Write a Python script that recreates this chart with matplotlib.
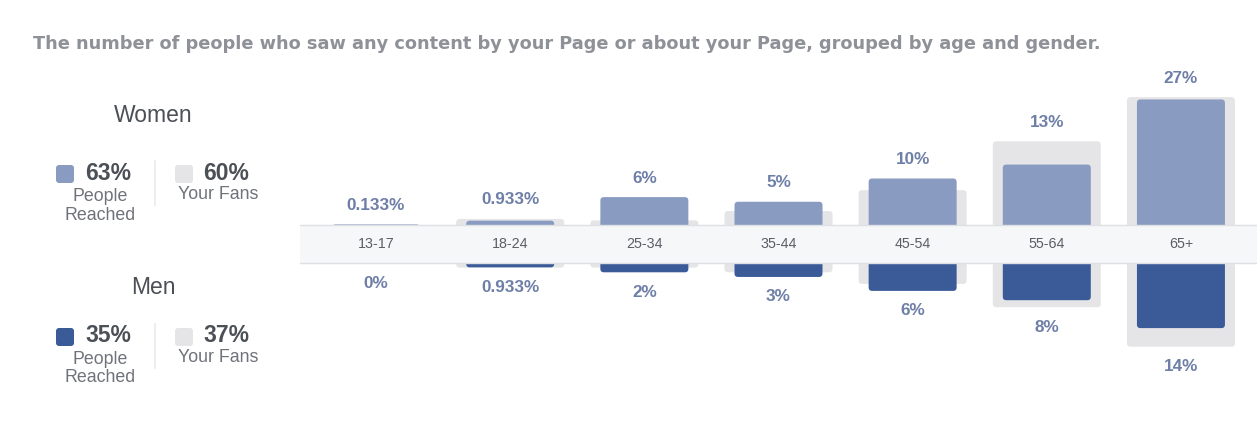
import matplotlib
matplotlib.use("Agg")
import matplotlib.pyplot as plt
from matplotlib.patches import FancyBboxPatch

# ---------------- data ----------------
ages = ["13-17", "18-24", "25-34", "35-44", "45-54", "55-64", "65+"]
women_reached = [0.133, 0.933, 6, 5, 10, 13, 27]
men_reached = [0, 0.933, 2, 3, 6, 8, 14]
women_fans = [0, 1.3, 1.0, 3.0, 7.5, 18.0, 27.5]
men_fans = [0, 1.0, 1.0, 2.0, 4.5, 9.5, 18.0]
women_total_reached, women_total_fans = 63, 60
men_total_reached, men_total_fans = 35, 37
title = ("The number of people who saw any content by your Page or about your Page, "
         "grouped by age and gender.")

# ---------------- style ----------------
C_WOMEN = "#8a9bc2"
C_MEN = "#3b5b98"
C_FANS = "#e5e5e7"
C_LABEL = "#6e7fa7"
C_TITLE = "#8e9197"
C_DARK = "#4b4f56"
C_GREY = "#6f7379"
FONT = "Liberation Sans"

W, H = 1257, 445
fig = plt.figure(figsize=(W / 100, H / 100), dpi=100)
fig.patch.set_facecolor("white")


def fx(x):
    return x / W


def fy(y):
    return 1 - y / H


x0, x1 = 300, 1257
band_top, band_bot = 225, 263
ppu = 4.65          # pixels per percent
top_limit, bottom_limit = 55, 430
xl = (-0.567, 6.567)

axw = fig.add_axes([fx(x0), fy(band_top), (x1 - x0) / W, (band_top - top_limit) / H])
axm = fig.add_axes([fx(x0), fy(bottom_limit), (x1 - x0) / W, (bottom_limit - band_bot) / H])
axb = fig.add_axes([fx(x0), fy(band_bot), (x1 - x0) / W, (band_bot - band_top) / H])

axw.set_ylim(0, (band_top - top_limit) / ppu)
axm.set_ylim((bottom_limit - band_bot) / ppu, 0)
for ax in (axw, axm, axb):
    ax.set_xlim(*xl)
    ax.set_xticks([])
    ax.set_yticks([])
    for s in ax.spines.values():
        s.set_visible(False)
axw.patch.set_alpha(0)
axm.patch.set_alpha(0)

px_per_x = (x1 - x0) / (xl[1] - xl[0])
aspect = px_per_x / ppu   # y-units per x-unit for equal pixel size
r_px = 3.5
rx = r_px / px_per_x


def rounded_bars(ax, values, width, color, z):
    bars = ax.bar(range(len(values)), values, width=width, color=color, zorder=z)
    for b in bars:
        x, w, h = b.get_x(), b.get_width(), b.get_height()
        b.remove()
        if h <= 0:
            continue
        start = -2.0
        p = FancyBboxPatch((x, start), w, h - start,
                           boxstyle=f"round,pad=0,rounding_size={rx}",
                           mutation_aspect=aspect, facecolor=color,
                           edgecolor="none", zorder=z)
        ax.add_patch(p)


reach_w = 88 / px_per_x
fans_w = 108 / px_per_x
rounded_bars(axw, women_fans, fans_w, C_FANS, 1)
rounded_bars(axw, women_reached, reach_w, C_WOMEN, 2)
rounded_bars(axm, men_fans, fans_w, C_FANS, 1)
rounded_bars(axm, men_reached, reach_w, C_MEN, 2)

for i in range(len(ages)):
    topv = max(women_reached[i], women_fans[i])
    axw.annotate(f"{women_reached[i]:g}%", (i, topv), xytext=(0, 19),
                 textcoords="offset pixels", ha="center", va="center",
                 fontsize=12.3, fontweight="bold", color=C_LABEL, family=FONT,
                 annotation_clip=False)
    botv = max(men_reached[i], men_fans[i])
    axm.annotate(f"{men_reached[i]:g}%", (i, botv), xytext=(0, -20),
                 textcoords="offset pixels", ha="center", va="center",
                 fontsize=12.3, fontweight="bold", color=C_LABEL, family=FONT,
                 annotation_clip=False)

# band with age labels
axb.set_zorder(5)
axb.patch.set_facecolor("#f6f7f8")
axb.set_ylim(0, 1)
for side in ("top", "bottom"):
    axb.spines[side].set_visible(True)
    axb.spines[side].set_color("#dfe0e3")
    axb.spines[side].set_linewidth(1.0)
for i, a in enumerate(ages):
    axb.text(i, 0.5, a, ha="center", va="center", fontsize=10.3,
             color="#5a5e65", family=FONT)

# title
fig.text(fx(33), fy(44), title, ha="left", va="center", fontsize=12.8,
         fontweight="bold", color=C_TITLE, family="DejaVu Sans")


# legend blocks
def legend_block(label, ylab, ysq, reached, fans, color):
    fig.text(fx(153), fy(ylab), label, ha="center", va="center", fontsize=16.5,
             color=C_DARK, family=FONT)
    for (xs, c) in ((56, color), (175, C_FANS)):
        fig.patches.append(FancyBboxPatch((fx(xs), fy(ysq + 18)), 18 / W, 18 / H,
                                          boxstyle=f"round,pad=0,rounding_size={3 / W}",
                                          mutation_aspect=W / H,
                                          transform=fig.transFigure,
                                          facecolor=c, edgecolor="none"))
    fig.text(fx(85), fy(ysq + 8), f"{reached}%", ha="left", va="center",
             fontsize=16.5, fontweight="bold", color=C_DARK, family=FONT)
    fig.text(fx(203), fy(ysq + 8), f"{fans}%", ha="left", va="center",
             fontsize=16.5, fontweight="bold", color=C_DARK, family=FONT)
    fig.text(fx(100), fy(ysq + 31), "People", ha="center", va="center",
             fontsize=12.8, color=C_GREY, family=FONT)
    fig.text(fx(100), fy(ysq + 50), "Reached", ha="center", va="center",
             fontsize=12.8, color=C_GREY, family=FONT)
    fig.text(fx(218), fy(ysq + 30), "Your Fans", ha="center", va="center",
             fontsize=12.8, color=C_GREY, family=FONT)
    fig.add_artist(plt.Line2D([fx(155), fx(155)], [fy(ysq - 4), fy(ysq + 40)],
                              color="#e9ebee", lw=1.2, transform=fig.transFigure))


legend_block("Women", 116, 165, women_total_reached, women_total_fans, C_WOMEN)
legend_block("Men", 287, 328, men_total_reached, men_total_fans, C_MEN)

fig.savefig("out.png", dpi=100, facecolor="white")
